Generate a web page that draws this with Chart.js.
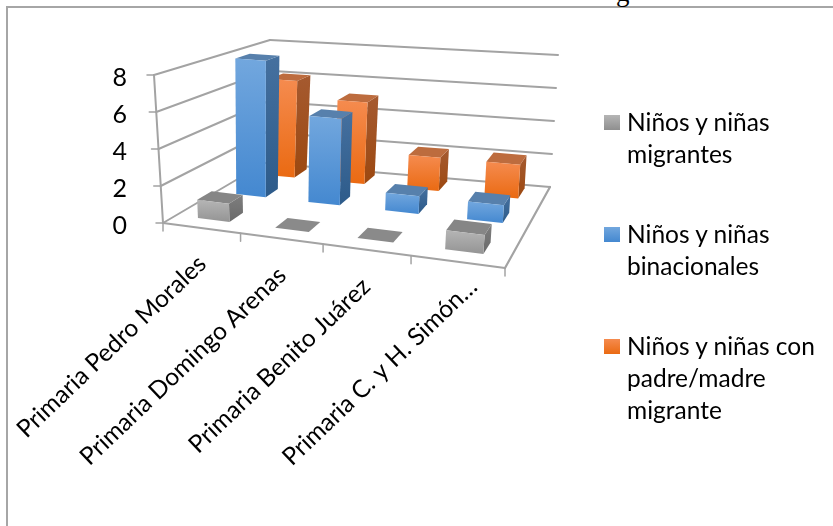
<!DOCTYPE html>
<html>
<head>
<meta charset="utf-8">
<style>
	html, body { margin: 0; padding: 0; background: #fff; }
	#wrap { position: relative; width: 833px; height: 526px; overflow: hidden; font-family: Lato, sans-serif; color: #000; }
	#frame { position: absolute; left: 6px; top: 6px; width: 840px; height: 540px; border: 2px solid #a6a6a6; box-sizing: border-box; }
	#cut { position: absolute; left: 616px; top: -23px; font: 27px "Liberation Serif", serif; }
	.item { position: absolute; left: 604px; width: 228px; font-size: 24.5px; line-height: 32px; padding-left: 23px; box-sizing: border-box; white-space: nowrap; }
	.item i { position: absolute; left: 0; top: 9px; width: 16px; height: 15px; }
	canvas { position: absolute; left: 0; top: 0; }
</style>
</head>
<body>
<div id="wrap">
	<div id="frame"></div>
	<div id="cut">g</div>
	<canvas id="chart" width="833" height="526"></canvas>
	<div id="legend"></div>
</div>
<script src="https://cdn.jsdelivr.net/npm/chart.js@4"></script>
<script>
	var categories = [ 'Primaria Pedro Morales', 'Primaria Domingo Arenas', 'Primaria Benito Juárez', 'Primaria C. y H. Simón…' ];
	var migrantes = [ 1, 0, 0, 1 ];
	var binacionales = [ 8, 5, 1, 1 ];
	var padreMadre = [ 6, 5, 2, 2 ];
	var seriesNames = [ 'Niños y niñas migrantes', 'Niños y niñas binacionales', 'Niños y niñas con padre/madre migrante' ];
	var legendLines = [
		[ 'Niños y niñas', 'migrantes' ],
		[ 'Niños y niñas', 'binacionales' ],
		[ 'Niños y niñas con', 'padre/madre', 'migrante' ],
	];
	var yTicks = [ 0, 2, 4, 6, 8 ];

	// floor and ceiling of the 3d box, corners: front-left, front-right, back-right, back-left
	var FLOOR = [ [ 163, 223 ], [ 505, 268 ], [ 550, 187 ], [ 265, 163 ] ];
	var CEIL = [ [ 154, 75 ], [ 517, 112 ], [ 558, 55 ], [ 270, 40 ] ];
	var DEPTH = [ [ 0.13, 0.275 ], [ 0.52, 0.65 ], [ 0.83, 0.96 ] ];
	var HALF_BAR = 0.052;
	var PERSP = -0.12;
	var GRID = '#a3a3a3';

	var SKIN = [
		{ front: [ '#b5b5b5', '#949494' ], side: [ '#7e7e7e', '#6a6a6a' ], top: '#868686', legend: [ '#b5b5b5', '#8f8f8f' ] },
		{ front: [ '#72a7de', '#4488d0' ], side: [ '#45709f', '#2d5b8a' ], top: '#5780ac', legend: [ '#72a7de', '#4488d0' ] },
		{ front: [ '#f58b4f', '#ea6a12' ], side: [ '#a55a30', '#9c4810' ], top: '#bd6c3e', legend: [ '#f58b4f', '#ea6a12' ] },
	];

	function warp( u ) {
		return u * ( 1 + PERSP ) / ( 1 + PERSP * u );
	}

	function bilerp( q, u, v ) {
		var w = warp( u );
		return [ 0, 1 ].map( function ( k ) {
			return q[0][k] * ( 1 - w ) * ( 1 - v ) + q[1][k] * w * ( 1 - v ) + q[2][k] * w * v + q[3][k] * ( 1 - w ) * v;
		} );
	}

	// u across the categories, v into the depth, f share of the value axis
	function project( u, v, f ) {
		var a = bilerp( FLOOR, u, v );
		var b = bilerp( CEIL, u, v );
		return [ a[0] + ( b[0] - a[0] ) * f, a[1] + ( b[1] - a[1] ) * f ];
	}

	function poly( ctx, pts, fill ) {
		ctx.beginPath();
		pts.forEach( function ( p, i ) {
			if ( i ) {
				ctx.lineTo( p[0], p[1] );
			} else {
				ctx.moveTo( p[0], p[1] );
			}
		} );
		ctx.closePath();
		ctx.fillStyle = fill;
		ctx.fill();
	}

	function line( ctx, a, b, width ) {
		ctx.beginPath();
		ctx.moveTo( a[0], a[1] );
		ctx.lineTo( b[0], b[1] );
		ctx.strokeStyle = GRID;
		ctx.lineWidth = width;
		ctx.stroke();
	}

	function grad( ctx, y0, y1, colors ) {
		var g = ctx.createLinearGradient( 0, y0, 0, y1 );
		g.addColorStop( 0, colors[0] );
		g.addColorStop( 1, colors[1] );
		return g;
	}

	function drawBar( ctx, u0, u1, d, f, skin ) {
		var v0 = d[0], v1 = d[1];
		if ( f === 0 ) {
			poly( ctx, [ project( u0, v0, 0 ), project( u1, v0, 0 ), project( u1, v1, 0 ), project( u0, v1, 0 ) ], '#8a8a8a' );
			return;
		}
		var a = project( u0, v0, 0 ), b = project( u1, v0, 0 ), c = project( u1, v1, 0 );
		var at = project( u0, v0, f ), bt = project( u1, v0, f ), ct = project( u1, v1, f ), dt = project( u0, v1, f );
		poly( ctx, [ b, c, ct, bt ], grad( ctx, ct[1], b[1], skin.side ) );
		poly( ctx, [ at, bt, ct, dt ], skin.top );
		poly( ctx, [ a, b, bt, at ], grad( ctx, at[1], b[1], skin.front ) );
	}

	var box3d = {
		id: 'box3d',
		beforeDatasetsDraw: function ( chart ) {
			var ctx = chart.ctx, x = chart.scales.x, y = chart.scales.y;
			var share = function ( val ) {
				return ( y.bottom - y.getPixelForValue( val ) ) / y.height;
			};
			var catU = function ( pos ) {
				return ( pos - x.left ) / x.width;
			};

			ctx.save();
			ctx.lineCap = 'round';
			// walls
			y.ticks.forEach( function ( t ) {
				var f = share( t.value );
				var fl = project( 0, 0, f ), bl = project( 0, 1, f ), br = project( 1, 1, f );
				line( ctx, fl, bl, 2 );
				line( ctx, bl, br, 2 );
				line( ctx, fl, [ fl[0] - 7, fl[1] ], 1.5 );
			} );
			line( ctx, project( 0, 0, 0 ), project( 0, 0, 1 ), 2 );
			// floor edges
			line( ctx, project( 0, 0, 0 ), project( 1, 0, 0 ), 2.2 );
			line( ctx, project( 1, 0, 0 ), project( 1, 1, 0 ), 2.2 );
			categories.concat( '' ).forEach( function ( c, i ) {
				var p = project( i / categories.length, 0, 0 );
				line( ctx, p, [ p[0], p[1] + 8 ], 1.5 );
			} );

			// back row first
			for ( var s = chart.data.datasets.length - 1; s >= 0; s-- ) {
				chart.data.datasets[ s ].data.forEach( function ( val, i ) {
					var u = catU( x.getPixelForValue( i ) );
					drawBar( ctx, u - HALF_BAR, u + HALF_BAR, DEPTH[ s ], share( val ), SKIN[ s ] );
				} );
			}

			// category labels follow the sloped front edge
			var nudge = [ [ 1, 32 ], [ 1, 33 ], [ 0, 33 ], [ 16, 21 ] ];
			ctx.font = '24.5px Lato, sans-serif';
			ctx.fillStyle = '#000';
			ctx.textAlign = 'right';
			ctx.textBaseline = 'middle';
			categories.forEach( function ( c, i ) {
				var p = project( catU( x.getPixelForValue( i ) ), 0, 0 );
				ctx.save();
				ctx.translate( p[0] + nudge[i][0], p[1] + nudge[i][1] );
				ctx.rotate( -43.7 * Math.PI / 180 );
				ctx.fillText( c, 0, 0 );
				ctx.restore();
			} );
			ctx.restore();
			return false;
		},
	};

	new Chart( document.getElementById( 'chart' ), {
		type: 'bar',
		data: {
			labels: categories,
			datasets: [
				{ label: seriesNames[0], data: migrantes },
				{ label: seriesNames[1], data: binacionales },
				{ label: seriesNames[2], data: padreMadre },
			],
		},
		options: {
			responsive: false,
			animation: false,
			layout: { padding: { top: 78, bottom: 300, right: 328, left: 0 } },
			plugins: { legend: { display: false }, tooltip: { enabled: false } },
			scales: {
				x: { display: false },
				y: {
					min: 0,
					max: 8,
					afterFit: function ( scale ) {
						scale.width = 163;
					},
					afterBuildTicks: function ( scale ) {
						scale.ticks = yTicks.map( function ( v ) {
							return { value: v };
						} );
					},
					grid: { display: false },
					border: { display: false },
					ticks: { color: '#000', padding: 28, font: { family: 'Lato, sans-serif', size: 25 } },
				},
			},
		},
		plugins: [ box3d ],
	} );

	var legendTops = [ 106, 218, 330 ];
	legendLines.forEach( function ( lines, i ) {
		var el = document.createElement( 'div' );
		el.className = 'item';
		el.style.top = legendTops[ i ] + 'px';
		el.innerHTML = '<i style="background:linear-gradient(' + SKIN[ i ].legend[0] + ',' + SKIN[ i ].legend[1] + ')"></i>' + lines.join( '<br>' );
		document.getElementById( 'legend' ).appendChild( el );
	} );
</script>
</body>
</html>
